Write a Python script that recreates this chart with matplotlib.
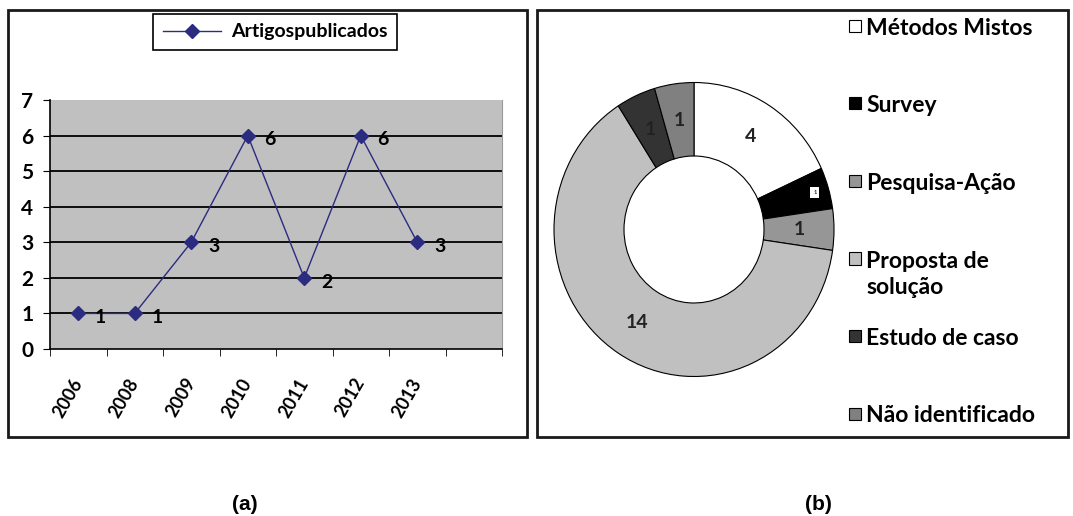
import numpy as np
import matplotlib
matplotlib.use('Agg')
import matplotlib.pyplot as plt
from matplotlib.patches import Rectangle

# (a) artigos publicados por ano
anos = ['2006', '2008', '2009', '2010', '2011', '2012', '2013', '']
artigos = [1, 1, 3, 6, 2, 6, 3]

# (b) métodos de pesquisa
metodos = ['Métodos Mistos', 'Survey', 'Pesquisa-Ação', 'Proposta de\nsolução',
           'Estudo de caso', 'Não identificado']
qtd = [4, 1, 1, 14, 1, 1]
cores = ['#ffffff', '#000000', '#969696', '#c0c0c0', '#333333', '#808080']

W, H = 1073, 516
def fx(px): return px / W
def fy(py): return 1 - py / H

plt.rcParams['font.family'] = ['Lato', 'DejaVu Sans']
fig = plt.figure(figsize=(W / 100, H / 100), dpi=100)

# molduras dos dois painéis
for x0, x1 in [(8, 527), (537, 1068)]:
    fig.add_artist(Rectangle((fx(x0), fy(437)), fx(x1) - fx(x0), fy(10) - fy(437),
                             transform=fig.transFigure, fill=False, lw=2, ec='#1a1a1a'))

# ---- (a) gráfico de linha ----
ax = fig.add_axes([fx(50), fy(349), fx(502) - fx(50), fy(100) - fy(349)])
ax.set_facecolor('#c0c0c0')
x = np.arange(len(artigos))
ax.plot(x, artigos, color='#2b2b80', lw=1, marker='D', ms=7,
        label='Artigospublicados', zorder=3)
for xi, v in zip(x, artigos):
    ax.annotate(str(v), (xi, v), xytext=(16, -3), textcoords='offset points',
                ha='center', va='center', fontsize=14, fontweight='bold')
for yv in range(1, 7):
    ax.axhline(yv, color='black', lw=1.3, zorder=1)

ax.set_xlim(-0.5, len(anos) - 0.5)
ax.set_ylim(0, 7)
ax.set_yticks(range(8))
ax.set_xticks(np.arange(len(anos)))
ax.set_xticklabels(anos)
ax.set_xticks(np.arange(len(anos) + 1) - 0.5, minor=True)
ax.tick_params(axis='x', which='major', length=0, pad=22)
ax.tick_params(axis='x', which='minor', length=5, direction='out')
ax.tick_params(axis='y', length=5, direction='out', pad=7)
for lbl in ax.get_xticklabels():
    lbl.set_rotation(60)
    lbl.set_ha('right')
    lbl.set_va('center')
    lbl.set_rotation_mode('anchor')
    lbl.set_fontsize(13)
    lbl.set_fontweight('bold')
for lbl in ax.get_yticklabels():
    lbl.set_fontsize(15)
    lbl.set_fontweight('bold')
ax.spines['top'].set_visible(False)
ax.spines['right'].set_color('#999999')
ax.spines['left'].set_linewidth(1.2)
ax.spines['bottom'].set_linewidth(1.2)

leg = ax.legend(loc='center', bbox_to_anchor=(fx(275), fy(32)), bbox_transform=fig.transFigure,
                fancybox=False, edgecolor='black', framealpha=1,
                prop={'weight': 'bold', 'size': 14}, handlelength=3, borderpad=0.5,
                handletextpad=0.5)
leg.get_frame().set_linewidth(1.2)

# ---- (b) gráfico de rosca (levemente elíptico como no original) ----
cx, cy, rx, ry = 694, 229.5, 140, 147
ax2 = fig.add_axes([fx(cx - 1.05 * rx), fy(cy + 1.05 * ry), 2.1 * rx / W, 2.1 * ry / H])
total = sum(qtd)
wedges, _, autotexts = ax2.pie(
    qtd, colors=cores, startangle=90, counterclock=False, radius=1,
    wedgeprops=dict(width=0.5, edgecolor='black', linewidth=0.8),
    autopct=lambda p: f'{round(p * total / 100):d}', pctdistance=0.75,
    textprops=dict(fontsize=14, color='#222222', fontweight='bold'))
ax2.set_aspect('auto')
ax2.set_xlim(-1.05, 1.05)
ax2.set_ylim(-1.05, 1.05)

# rótulo da fatia Survey: caixinha branca perto da borda
w = wedges[1]
th = np.deg2rad((w.theta1 + w.theta2) / 2)
autotexts[1].set_position((0.9 * np.cos(th), 0.9 * np.sin(th)))
autotexts[1].set_fontsize(4)
autotexts[1].set_bbox(dict(facecolor='white', edgecolor='none', pad=2))

# legenda manual (uma entrada a cada ~77 px)
for i, (nome, cor) in enumerate(zip(metodos, cores)):
    yc = 26 + 77.5 * i
    fig.add_artist(Rectangle((fx(849), fy(yc + 6)), 12 / W, 12 / H, transform=fig.transFigure,
                             facecolor=cor, edgecolor='black', lw=0.8))
    fig.text(fx(866), fy(yc - 8), nome, ha='left', va='top', fontsize=16.5,
             fontweight='bold', linespacing=1.35)

fig.text(fx(245), fy(505), '(a)', ha='center', va='center', fontsize=15,
         fontweight='bold', family='Liberation Sans')
fig.text(fx(818), fy(505), '(b)', ha='center', va='center', fontsize=15,
         fontweight='bold', family='Liberation Sans')

fig.savefig('out.png', dpi=100)
